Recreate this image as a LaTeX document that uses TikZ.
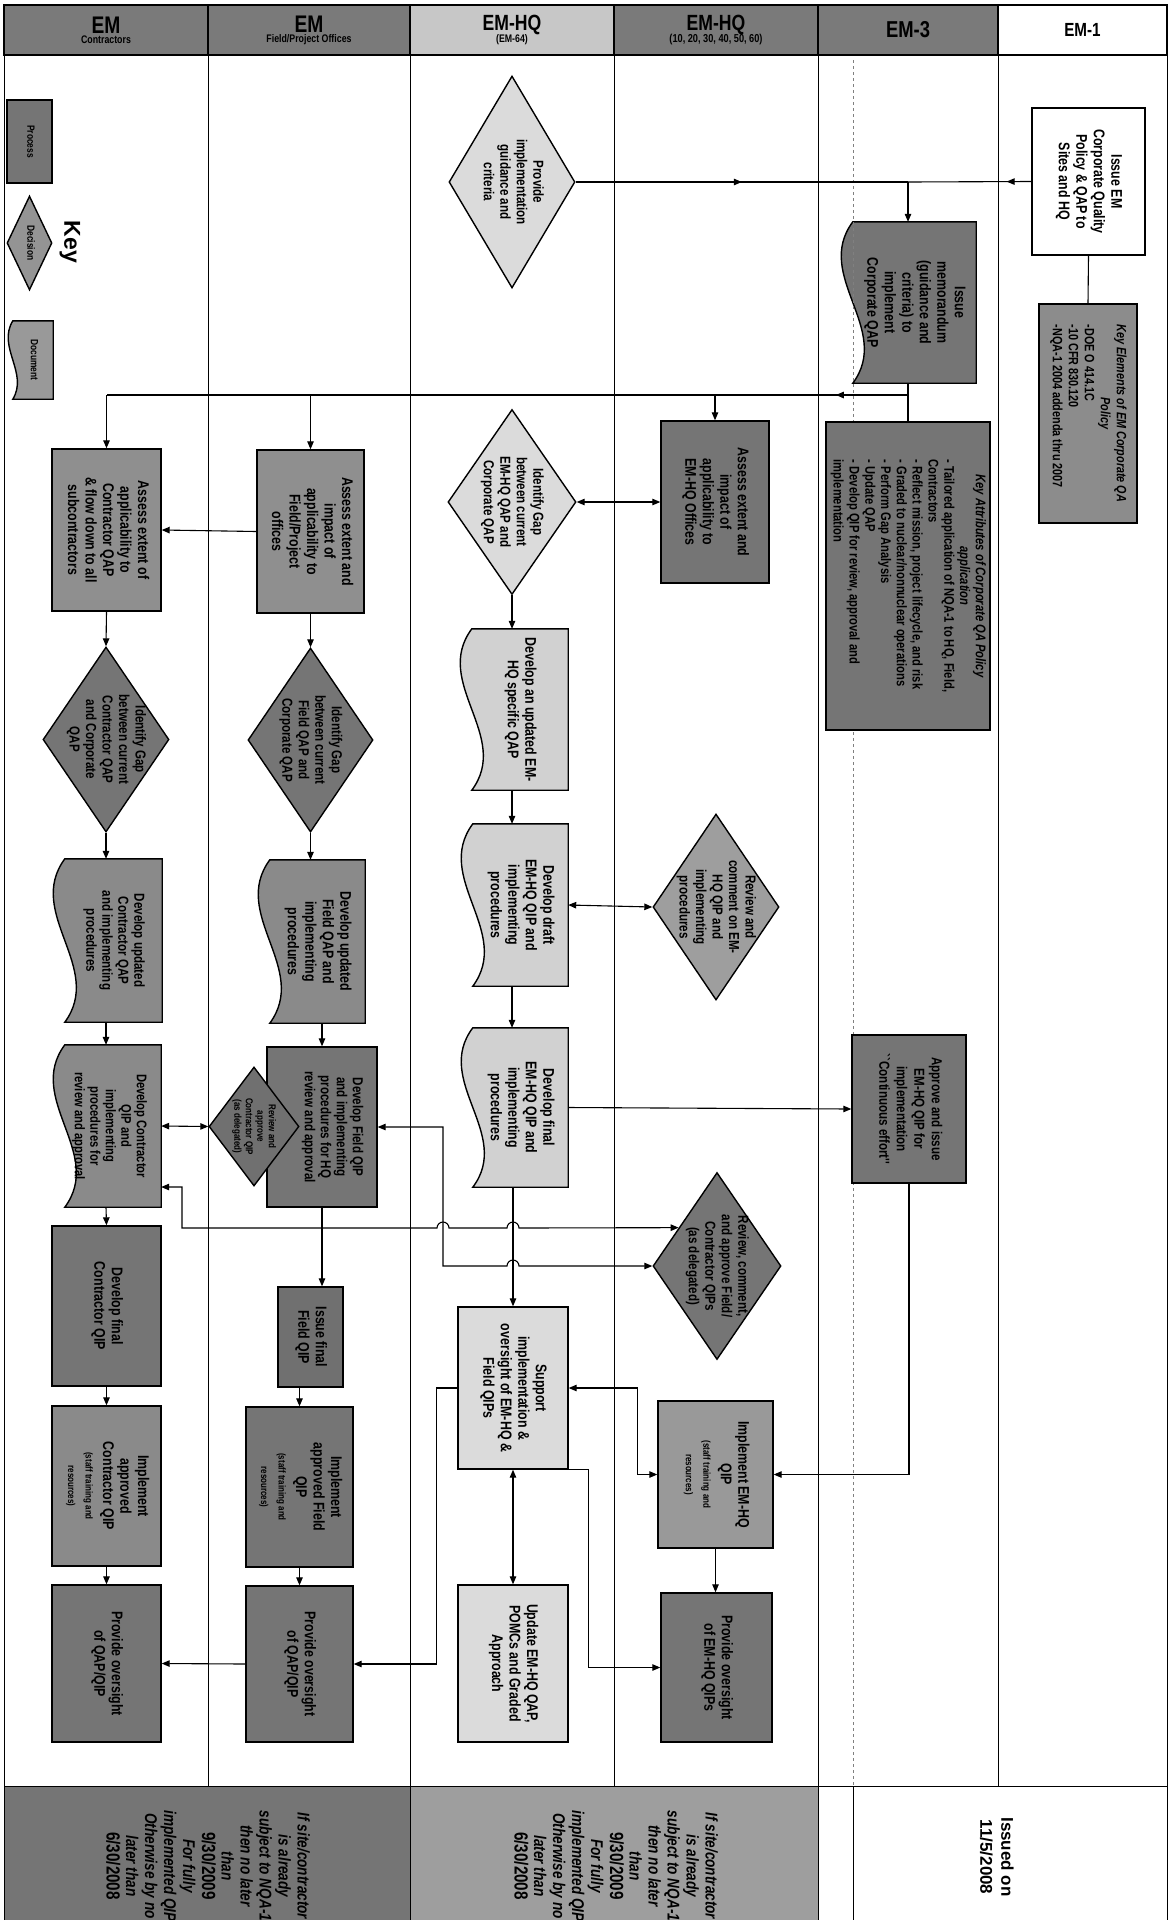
\documentclass[tikz,border=0pt]{standalone}
\usepackage{fontspec}
\setmainfont{Liberation Sans}
\newfontfamily\nar[FakeStretch=0.8]{Liberation Sans}
\usepackage{graphicx}
\usetikzlibrary{shapes.geometric,arrows.meta,calc,decorations.markings,backgrounds}

\colorlet{cdark}{black!54}
\colorlet{cmid}{black!38}
\colorlet{clight}{black!14}
\colorlet{chead}{black!52}

\newcommand{\nf}{\nar\bfseries\fontsize{15.5}{17.5}\selectfont}
\newcommand{\df}{\nar\bfseries\fontsize{14.5}{16.5}\selectfont}
\newcommand{\rt}[1]{\rotatebox{-90}{\begin{tabular}{@{}c@{}}#1\end{tabular}}}
\newcommand{\rtl}[1]{\rotatebox{-90}{\begin{tabular}{@{}l@{}}#1\end{tabular}}}
\newcommand{\sm}{\fontsize{10}{11}\selectfont}
% document shape drawn under a named node: name, fill, wave amplitude
\newcommand{\docshape}[3]{%
  \begin{pgfonlayer}{background}
  \draw[boxline,fill=#2] (#1.north east) -- (#1.north west)
    .. controls ($(#1.north west)!0.333!(#1.south west)+(-#3,0)$) and ($(#1.north west)!0.667!(#1.south west)+(#3,0)$) .. (#1.south west)
    -- (#1.south east) -- cycle;
  \end{pgfonlayer}}

\begin{document}
\begin{tikzpicture}[x=1pt,y=-1pt,
  >={Triangle[length=8pt,width=6.5pt]},
  boxline/.style={draw=black,line width=1.4pt},
  proc/.style={boxline,rectangle,inner sep=1pt,font=\nf},
  dec/.style={boxline,diamond,inner sep=-16pt,font=\df},
  docn/.style={rectangle,inner sep=1pt,font=\nf},
  conn/.style={line width=1.1pt},
  lane/.style={line width=0.9pt},
  hdr/.style={boxline,rectangle,inner sep=1pt,align=center,font=\nar\bfseries},
  midarrow/.style={postaction={decorate,decoration={markings,mark=at position #1 with {\arrow{Triangle[length=8pt,width=6.5pt]}}}}},
]
\useasboundingbox (0,0) rectangle (1170,1920);
\begin{pgfonlayer}{background}
\fill[white] (0,0) rectangle (1170,1920);
\end{pgfonlayer}

% ---------- footer fills ----------
\fill[cdark] (4,1786) rectangle (410,1920);
\fill[cmid] (410,1786) rectangle (818,1920);

% ---------- lanes ----------
\draw[lane] (4,55) rectangle (1167,1786);
\foreach \x in {208,614,998} \draw[lane] (\x,55) -- (\x,1786);
\foreach \x in {410,818} \draw[lane] (\x,55) -- (\x,1920);
\draw[lane] (4,1786) -- (4,1920) (1167,1786) -- (1167,1920);
\draw[gray,dashed,line width=0.6pt] (853,60) -- (853,1786);
\draw[lane] (853,1786) -- (853,1920);

% ---------- headers ----------
\node[hdr,fill=chead,minimum width=204,minimum height=50] (h1) at (106,30)
  {{\fontsize{24}{24}\selectfont EM}\\[-2pt]{\fontsize{11}{11}\selectfont Contractors}};
\node[hdr,fill=chead,minimum width=202,minimum height=50] (h2) at (309,30)
  {{\fontsize{24}{24}\selectfont EM}\\[-2pt]{\fontsize{11}{11}\selectfont Field/Project Offices}};
\node[hdr,fill=black!22,minimum width=204,minimum height=50] (h3) at (512,30)
  {{\fontsize{22}{22}\selectfont EM-HQ}\\[-2pt]{\fontsize{11}{11}\selectfont (EM-64)}};
\node[hdr,fill=chead,minimum width=204,minimum height=50] (h4) at (716,30)
  {{\fontsize{22}{22}\selectfont EM-HQ}\\[-2pt]{\fontsize{11.5}{11.5}\selectfont (10, 20, 30, 40, 50, 60)}};
\node[hdr,fill=chead,minimum width=180,minimum height=50] (h5) at (908,30)
  {{\fontsize{23}{23}\selectfont EM-3}};
\node[hdr,fill=white,minimum width=169,minimum height=50] (h6) at (1082.5,30)
  {{\fontsize{19}{19}\selectfont EM-1}};

% ---------- key ----------
\node[proc,fill=cdark,minimum width=45,minimum height=83,font=\nar\bfseries\fontsize{10.5}{11}\selectfont] (kproc) at (29.5,141.5) {\rt{Process}};
\node[dec,fill=black!42,minimum width=45,minimum height=94,shape aspect=0.48,inner sep=0pt,font=\nar\bfseries\fontsize{10.5}{11}\selectfont] (kdec) at (29.5,243) {\rt{Decision}};
\node[font=\bfseries\fontsize{23}{24}\selectfont] (keylbl) at (70,242) {\rotatebox{-90}{Key}};
\node[docn,minimum width=40,minimum height=78,font=\nar\bfseries\fontsize{10.5}{11}\selectfont] (kdoc) at (33,360) {\rt{Document}};
\docshape{kdoc}{black!40}{16}

% ---------- EM-1 ----------
\node[proc,fill=white,minimum width=113,minimum height=147] (ie) at (1088.5,181.5)
  {\rt{Issue EM\\Corporate Quality\\Policy \& QAP to\\Sites and HQ}};
\node[proc,fill=black!45,minimum width=98,minimum height=219,font=\nar\bfseries\fontsize{13.5}{16}\selectfont] (ke) at (1088,413.5)
  {\rtl{\multicolumn{1}{@{}c@{}}{\itshape Key Elements of EM Corporate QA}\\ \multicolumn{1}{@{}c@{}}{\itshape Policy}\\ -DOE O 414.1C\\ -10 CFR 830.120\\ -NQA-1 2004 addenda thru 2007}};

% ---------- EM-3 ----------
\node[docn,minimum width=123,minimum height=161] (im) at (914.5,302.5)
  {\rt{Issue\\memorandum\\(guidance and\\criteria) to\\implement\\Corporate QAP}};
\docshape{im}{cdark}{40}
\node[proc,fill=cdark,minimum width=164,minimum height=308,font=\nar\bfseries\fontsize{14}{15.8}\selectfont] (ka) at (908,576)
  {\rtl{\multicolumn{1}{@{}c@{}}{\itshape Key Attributes of Corporate QA Policy}\\ \multicolumn{1}{@{}c@{}}{\itshape application}\\
  - Tailored application of NQA-1 to HQ, Field,\\ Contractors\\ - Reflect mission, project lifecycle, and risk\\
  - Graded to nuclear/nonnuclear operations\\ - Perform Gap Analysis\\ - Update QAP\\
  - Develop QIP for review, approval and\\ implementation}};
\node[proc,fill=cdark,minimum width=114,minimum height=148,font=\nar\bfseries\fontsize{14.5}{17.5}\selectfont] (ap) at (909,1109)
  {\rt{Approve and issue\\EM-HQ QIP for\\implementation\\``Continuous effort''}};

% ---------- EM-HQ (EM-64) ----------
\node[dec,fill=clight,minimum width=126,minimum height=212,shape aspect=0.594] (pd) at (512,182)
  {\rt{Provide\\implementation\\guidance and\\criteria}};
\node[dec,fill=clight,minimum width=128,minimum height=185,shape aspect=0.69] (g3) at (512,502)
  {\rt{Identify Gap\\between current\\EM-HQ QAP and\\Corporate QAP}};
\node[docn,minimum width=96,minimum height=161] (u3) at (520,709.5)
  {\rt{Develop an updated EM-\\HQ specific QAP}};
\docshape{u3}{black!18}{40}
\node[docn,minimum width=95,minimum height=162] (d3) at (520.5,905)
  {\rt{Develop draft\\EM-HQ QIP and\\implementing\\procedures}};
\docshape{d3}{black!18}{40}
\node[docn,minimum width=95,minimum height=159] (f3) at (520.5,1107.5)
  {\rt{Develop final\\EM-HQ QIP and\\implementing\\procedures}};
\docshape{f3}{black!18}{40}
\node[proc,fill=clight,minimum width=110,minimum height=162] (sp) at (513,1388)
  {\rt{Support\\implementation \&\\oversight of EM-HQ \&\\Field QIPs}};
\node[proc,fill=clight,minimum width=110,minimum height=157] (up) at (513,1663.5)
  {\rt{Update EM-HQ QAP,\\POMCs and Graded\\Approach}};

% ---------- EM-HQ (10..60) ----------
\node[proc,fill=cdark,minimum width=108,minimum height=162] (a4) at (715,502)
  {\rt{Assess extent and\\impact of\\applicability to\\EM-HQ Offices}};
\node[dec,fill=cmid,minimum width=126,minimum height=186,shape aspect=0.677] (r4) at (716,907)
  {\rt{Review and\\comment on EM-\\HQ QIP and\\implementing\\procedures}};
\node[dec,fill=cdark,minimum width=128,minimum height=187,shape aspect=0.684] (rd) at (717,1266)
  {\rt{Review, comment,\\and approve Field/\\Contractor QIPs\\(as delegated)}};
\node[proc,fill=black!40,minimum width=115,minimum height=147] (ih) at (715.5,1474.5)
  {\rt{Implement EM-HQ\\QIP\\ \sm (staff training and\\ \sm resources)}};
\node[proc,fill=cdark,minimum width=111,minimum height=149] (o4) at (716.5,1667.5)
  {\rt{Provide oversight\\of EM-HQ QIPs}};

% ---------- EM Field/Project Offices ----------
\node[proc,fill=black!44,minimum width=107,minimum height=163] (a2) at (310.5,531.5)
  {\rt{Assess extent and\\impact of\\applicability to\\Field/Project\\offices}};
\node[dec,fill=cdark,minimum width=125,minimum height=184,shape aspect=0.68] (g2) at (310.5,740)
  {\rt{Identify Gap\\between current\\Field QAP and\\Corporate QAP}};
\node[docn,minimum width=95,minimum height=163] (u2) at (317.5,941.5)
  {\rt{Develop updated\\Field QAP and\\implementing\\procedures}};
\docshape{u2}{black!46}{40}
\node[proc,fill=cdark,minimum width=110,minimum height=160,font=\nar\bfseries\fontsize{14.5}{16}\selectfont] (fq) at (322,1127)
  {\rt{Develop Field QIP\\and implementing\\procedures for HQ\\review and approval\\[20pt]}};
\node[dec,fill=black!56,minimum width=90,minimum height=119,shape aspect=0.756,inner sep=-4pt,font=\nar\bfseries\fontsize{10}{11.5}\selectfont] (sd) at (254,1126.5)
  {\rt{Review and\\approve\\Contractor QIP\\(as delegated)}};
\node[proc,fill=black!56,minimum width=65,minimum height=100] (if2) at (310.5,1337)
  {\rt{Issue final\\Field QIP}};
\node[proc,fill=cdark,minimum width=107,minimum height=160] (im2) at (299.5,1487)
  {\rt{Implement\\approved Field\\QIP\\ \sm (staff training and\\ \sm resources)}};
\node[proc,fill=cdark,minimum width=107,minimum height=156] (o2) at (299.5,1664)
  {\rt{Provide oversight\\of QAP/QIP}};

% ---------- EM Contractors ----------
\node[proc,fill=black!44,minimum width=109,minimum height=162] (a1) at (106.5,530)
  {\rt{Assess extent of\\applicability to\\Contractor QAP\\\& flow down to all\\subcontractors}};
\node[dec,fill=cdark,minimum width=126,minimum height=185,shape aspect=0.68] (g1) at (106,739.5)
  {\rt{Identify Gap\\between current\\Contractor QAP\\and Corporate\\QAP}};
\node[docn,minimum width=97,minimum height=163,font=\nar\bfseries\fontsize{14.5}{16}\selectfont] (u1) at (113.5,940.5)
  {\rt{Develop updated\\Contractor QAP\\and implementing\\procedures}};
\docshape{u1}{black!46}{40}
\node[docn,minimum width=96,minimum height=162,font=\nar\bfseries\fontsize{14}{15.5}\selectfont] (c1) at (113,1126)
  {\rt{Develop Contractor\\QIP and\\implementing\\procedures for\\review and approval\\[-8pt]}};
\docshape{c1}{black!46}{40}
\node[proc,fill=cdark,minimum width=109,minimum height=160] (fc1) at (106.5,1306)
  {\rt{Develop final\\Contractor QIP}};
\node[proc,fill=black!46,minimum width=109,minimum height=160] (im1) at (106.5,1486)
  {\rt{Implement\\approved\\Contractor QIP\\ \sm (staff training and\\ \sm resources)}};
\node[proc,fill=cdark,minimum width=109,minimum height=157] (o1) at (106.5,1663.5)
  {\rt{Provide oversight\\of QAP/QIP}};

% ---------- connectors ----------
\coordinate (j1) at (908,182);
\coordinate (j2) at (908,395);
\draw[conn,midarrow=0.5] (pd.east) -- (j1);
\draw[conn,midarrow=0.2] (ie.west) -- (j1);
\draw[conn,->] (j1) -- (j1 |- im.north);
\draw[conn] (j1 |- im.south) -- (j1 |- ka.north);
\draw[conn] (ie.south) -- (ke.north);
\draw[conn,midarrow=0.09] (j2) -- (a1.north |- j2);
\draw[conn,->] (a4.north |- j2) -- (a4.north);
\draw[conn,->] (a2.north |- j2) -- (a2.north);
\draw[conn,->] (a1.north |- j2) -- (a1.north);

% EM-HQ column
\draw[conn,<->] (g3.east) -- (a4.west);
\draw[conn,->] (g3.south) -- (g3.south |- u3.north);
\draw[conn,->] (g3.south |- u3.south) -- (g3.south |- d3.north);
\draw[conn,<->] (d3.east) -- (r4.west);
\draw[conn,->] (g3.south |- d3.south) -- (g3.south |- f3.north);
\draw[conn,->] (f3.east) -- (ap.west);
\draw[conn,->] (sp.north |- f3.south) -- (sp.north);
\draw[conn,<->] (sp.east) -- ++(69,0) |- (ih.west);
\draw[conn,->] (ap.south) |- (ih.east);
\draw[conn,->] (ih.south) -- (ih.south |- o4.north);
\draw[conn,<->] (sp.south) -- (sp.south |- up.north);
\draw[conn,->] (sp.south east) -- ++(20,0) |- (o4.west);
\draw[conn,->] (sp.west) -- ++(-21,0) |- (o2.east);
\draw[conn,->] (o2.west) -- (o1.east);

% Field column
\draw[conn,->] (a2.west) -- (a1.east);
\draw[conn,->] (a2.south) -- (g2.north);
\draw[conn,->] (g2.south) -- (g2.south |- u2.north);
\draw[conn,->] (fq.north |- u2.south) -- (fq.north);
\draw[conn,->] (fq.south) -- (fq.south |- if2.north);
\draw[conn,->] (im2.north |- if2.south) -- (im2.north);
\draw[conn,->] (im2.south) -- (o2.north);

% Contractor column
\draw[conn,->] (a1.south) -- (g1.north);
\draw[conn,->] (g1.south) -- (g1.south |- u1.north);
\draw[conn,->] (g1.south |- u1.south) -- (g1.south |- c1.north);
\draw[conn,->] (g1.south |- c1.south) -- (fc1.north);
\draw[conn,->] (fc1.south) -- (im1.north);
\draw[conn,->] (im1.south) -- (o1.north);
\draw[conn,<->] (c1.east) -- (sd.west);

% long review lines with bridges
\draw[conn,<->] (c1.east |- 0,1187) -- (182,1187) -- (182,1228) -- (437,1228)
  arc[start angle=180,end angle=0,radius=6pt] -- (507,1228)
  arc[start angle=180,end angle=0,radius=6pt] -- (rd.135);
\draw[conn,<->] (fq.east) -- (443,1127) -- (443,1266) -- (507,1266)
  arc[start angle=180,end angle=0,radius=6pt] -- (rd.west);

% ---------- footer texts ----------
\begin{scope}
\clip (0,0) rectangle (1170,1920);
\node[font=\nar\bfseries\fontsize{17}{19}\selectfont] (ft1) at (206,1866)
  {\rt{\itshape If site/contractor\\ \itshape is already\\ \itshape subject to NQA-1\\ \itshape then no later\\ \itshape than\\
  \fontsize{19}{19}\selectfont 9/30/2009\\ \itshape For fully\\ \itshape implemented QIP\\ \itshape Otherwise by no\\ \itshape later than\\
  \fontsize{19}{19}\selectfont 6/30/2008}};
\node[font=\nar\bfseries\fontsize{17}{19}\selectfont] (ft2) at (614,1866)
  {\rt{\itshape If site/contractor\\ \itshape is already\\ \itshape subject to NQA-1\\ \itshape then no later\\ \itshape than\\
  \fontsize{19}{19}\selectfont 9/30/2009\\ \itshape For fully\\ \itshape implemented QIP\\ \itshape Otherwise by no\\ \itshape later than\\
  \fontsize{19}{19}\selectfont 6/30/2008}};
\end{scope}
\node[font=\bfseries\fontsize{17}{21}\selectfont] (iss) at (995,1857) {\rt{Issued on\\11/5/2008}};
\end{tikzpicture}
\end{document}
